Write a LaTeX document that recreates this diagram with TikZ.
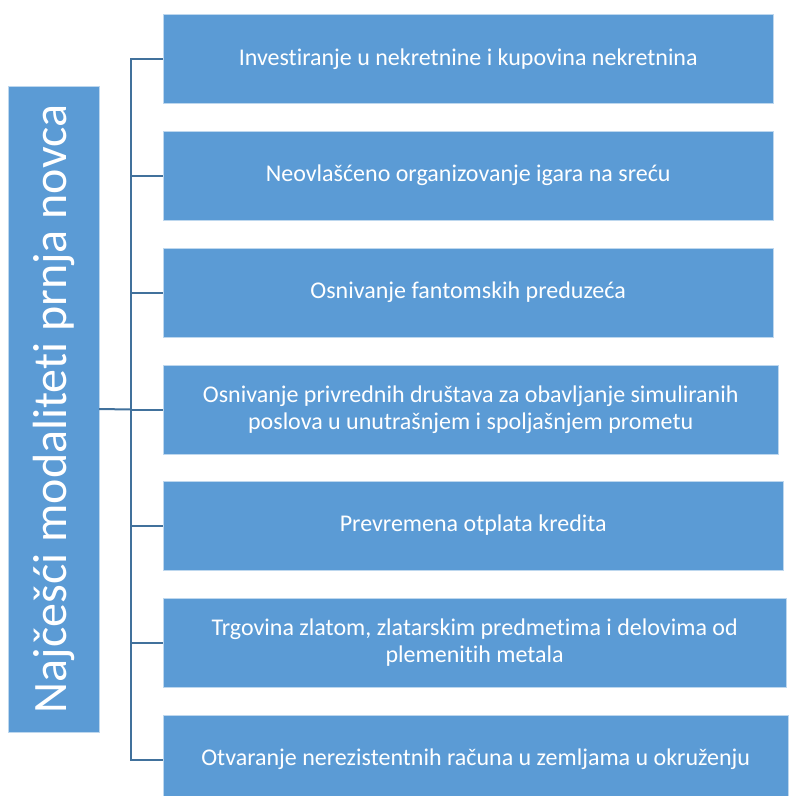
\documentclass[tikz,border=0pt]{standalone}
\usepackage{fontspec}
\setmainfont{Carlito}[Ligatures=NoCommon]
\definecolor{boxblue}{HTML}{5B9BD5}
\definecolor{linkblue}{HTML}{41719C}
\begin{document}
\begin{tikzpicture}[x=1pt,y=-1pt,
    item/.style={rectangle,fill=boxblue,draw=boxblue!40!white,thin,text=white,
      font=\fontsize{24}{27}\selectfont,align=center,anchor=west,
      minimum height=89pt,inner sep=0pt},
    title/.style={rectangle,fill=boxblue,draw=boxblue!40!white,thin,text=white,
      font=\fontsize{48}{54}\selectfont,minimum width=646pt,minimum height=91pt,
      inner sep=0pt,rotate=90},
    link/.style={draw=linkblue,line width=2pt}]
    \useasboundingbox (0,0) rectangle (788,796);

    \node[title] (T) at (53.5, 409) {Najčešći modaliteti prnja novca};

    \node[item,minimum width=610pt] (B1) at (163, 59) {Investiranje u nekretnine i kupovina nekretnina};
    \node[item,minimum width=610pt] (B2) at (163, 175.5) {Neovlašćeno organizovanje igara na sreću};
    \node[item,minimum width=610pt] (B3) at (163, 292.5) {Osnivanje fantomskih preduzeća};
    \node[item,minimum width=615pt] (B4) at (163, 409.5) {Osnivanje privrednih društava za obavljanje simuliranih\\poslova u unutrašnjem i spoljašnjem prometu};
    \node[item,minimum width=620pt] (B5) at (163, 525.5) {Prevremena otplata kredita};
    \node[item,minimum width=623pt] (B6) at (163, 642.5) {Trgovina zlatom, zlatarskim predmetima i delovima od\\plemenitih metala};
    \node[item,minimum width=625pt] (B7) at (163, 759.5) {Otvaranje nerezistentnih računa u zemljama u okruženju};

    \coordinate (S) at (131, 409.5);
    \path[link] (T.south) -- (S);
    \foreach \b in {B1,B2,B3,B4,B5,B6,B7}
      \path[link] (S) |- (\b.west);
  \end{tikzpicture}
\end{document}
